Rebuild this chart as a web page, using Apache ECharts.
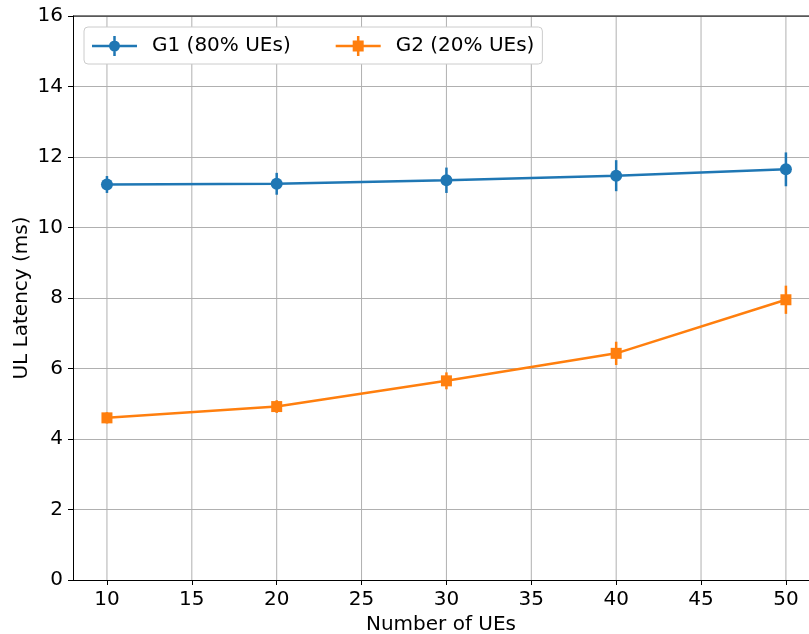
<!DOCTYPE html>
<html>
<head>
<meta charset="utf-8">
<script src="https://cdn.jsdelivr.net/npm/echarts@6/dist/echarts.min.js"></script>
<style>
  html, body { margin: 0; padding: 0; background: #fff; }
  #chart { width: 809px; height: 634px; }
</style>
</head>
<body>
<div id="chart"></div>
<script>
// data
var ues = [10, 20, 30, 40, 50];
var g1Mean = [11.22, 11.24, 11.34, 11.47, 11.65];
var g1Err = [0.24, 0.31, 0.36, 0.44, 0.48];
var g2Mean = [4.60, 4.92, 5.65, 6.43, 7.95];
var g2Err = [0.16, 0.18, 0.24, 0.33, 0.40];
var xTicks = [10, 15, 20, 25, 30, 35, 40, 45, 50];

var blue = '#1f77b4';
var orange = '#ff7f0e';
var font = 'DejaVu Sans';
// the original figure is clipped on the right, so the x range stops short of 52
var xMin = 8, xMax = 51.36;

// legend icons: line + marker + vertical error bar
var iconG1 = 'path://M0 10.75H45V13.25H0Z M21.25 2H23.75V22H21.25Z M17 12A5.5 5.5 0 1 1 28 12A5.5 5.5 0 1 1 17 12Z';
var iconG2 = 'path://M0 10.75H45V13.25H0Z M21.25 2H23.75V22H21.25Z M17 6.5H28V17.5H17Z';

function pairs(xs, ys) {
  var out = [];
  for (var i = 0; i < xs.length; i++) out.push([xs[i], ys[i]]);
  return out;
}
function errData(xs, ys, es) {
  var out = [];
  for (var i = 0; i < xs.length; i++) out.push([xs[i], ys[i] - es[i], ys[i] + es[i]]);
  return out;
}
function errBar(color) {
  return function (params, api) {
    var lo = api.coord([api.value(0), api.value(1)]);
    var hi = api.coord([api.value(0), api.value(2)]);
    return {
      type: 'line',
      shape: { x1: lo[0], y1: lo[1], x2: hi[0], y2: hi[1] },
      style: { stroke: color, lineWidth: 2.5 }
    };
  };
}

var myChart = echarts.init(document.getElementById('chart'));
var option = {
  animation: false,
  grid: { left: 73, right: 0, top: 16, bottom: 54, outerBoundsMode: 'none' },
  legend: {
    left: 84, top: 27,
    padding: [9, 8, 8, 8],
    itemGap: 45,
    itemWidth: 45, itemHeight: 24,
    backgroundColor: '#fff',
    borderColor: '#cccccc', borderWidth: 1, borderRadius: 4,
    textStyle: { fontFamily: font, fontSize: 20, color: '#000', padding: [0, 0, 0, 10] },
    data: [
      { name: 'G1 (80% UEs)', icon: iconG1 },
      { name: 'G2 (20% UEs)', icon: iconG2 }
    ]
  },
  xAxis: {
    type: 'value', min: xMin, max: xMax,
    name: 'Number of UEs', nameLocation: 'middle', nameGap: 34,
    nameTextStyle: { fontFamily: font, fontSize: 20, color: '#000' },
    axisLine: { show: true, lineStyle: { color: '#000', width: 1 } },
    axisTick: { show: true, length: 5, lineStyle: { color: '#000' }, customValues: xTicks },
    axisLabel: { fontFamily: font, fontSize: 20, color: '#000', margin: 10, customValues: xTicks },
    splitLine: { show: false }
  },
  yAxis: {
    type: 'value', min: 0, max: 16, interval: 2,
    name: 'UL Latency (ms)', nameLocation: 'middle', nameGap: 41,
    nameMoveOverlap: false,
    nameTextStyle: { fontFamily: font, fontSize: 20, color: '#000' },
    axisLine: { show: true, lineStyle: { color: '#000', width: 1 } },
    axisTick: { show: true, length: 5, lineStyle: { color: '#000' } },
    axisLabel: { fontFamily: font, fontSize: 20, color: '#000', margin: 10 },
    splitLine: { show: true, lineStyle: { color: '#b0b0b0', width: 1 } }
  },
  series: [
    // vertical grid lines at the x ticks
    {
      type: 'custom', silent: true, z: 0,
      data: xTicks,
      renderItem: function (params, api) {
        var a = api.coord([api.value(0), 0]);
        var b = api.coord([api.value(0), 16]);
        return { type: 'line', shape: { x1: a[0], y1: a[1], x2: b[0], y2: b[1] },
                 style: { stroke: '#b0b0b0', lineWidth: 1 } };
      },
      encode: { x: 0 }
    },
    // top spine
    {
      type: 'custom', silent: true, z: 1,
      data: [[xMin, 16]],
      renderItem: function (params, api) {
        var a = api.coord([xMin, 16]);
        var b = api.coord([xMax, 16]);
        return { type: 'line', shape: { x1: a[0], y1: a[1], x2: b[0], y2: b[1] },
                 style: { stroke: '#000', lineWidth: 1 } };
      }
    },
    {
      name: 'G1 err', type: 'custom', z: 2,
      data: errData(ues, g1Mean, g1Err),
      renderItem: errBar(blue), encode: { x: 0, y: [1, 2] }
    },
    {
      name: 'G2 err', type: 'custom', z: 2,
      data: errData(ues, g2Mean, g2Err),
      renderItem: errBar(orange), encode: { x: 0, y: [1, 2] }
    },
    {
      name: 'G1 (80% UEs)', type: 'line', z: 3,
      data: pairs(ues, g1Mean),
      symbol: 'circle', symbolSize: 12,
      lineStyle: { color: blue, width: 2.5 },
      itemStyle: { color: blue }
    },
    {
      name: 'G2 (20% UEs)', type: 'line', z: 3,
      data: pairs(ues, g2Mean),
      symbol: 'rect', symbolSize: 11,
      lineStyle: { color: orange, width: 2.5 },
      itemStyle: { color: orange }
    }
  ]
};
myChart.setOption(option);
</script>
</body>
</html>
